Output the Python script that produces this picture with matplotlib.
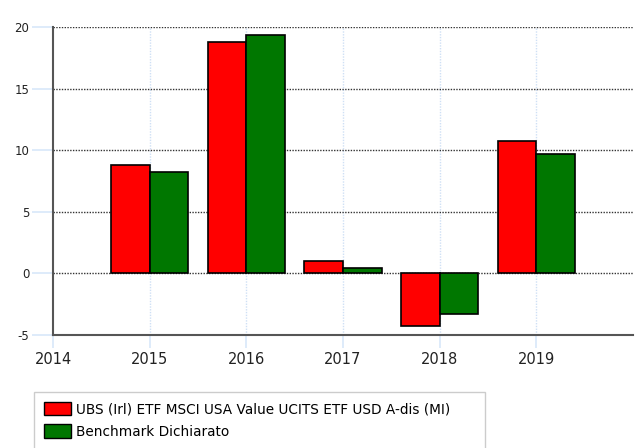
import matplotlib
matplotlib.use("Agg")
import matplotlib.pyplot as plt
from matplotlib.patches import Rectangle, Patch
import numpy as np

years = [2015, 2016, 2017, 2018, 2019]
fund = [8.8, 18.78, 1.0, -4.27, 10.72]
bench = [8.23, 19.35, 0.47, -3.3, 9.72]
xticks = [2014, 2015, 2016, 2017, 2018, 2019]
yticks = [-5, 0, 5, 10, 15, 20]
labels = ["UBS (Irl) ETF MSCI USA Value UCITS ETF USD A-dis (MI)", "Benchmark Dichiarato"]

W, H = 636, 448
fig = plt.figure(figsize=(W / 100, H / 100), dpi=100)
ax = fig.add_axes([53 / W, 1 - 335 / H, (633 - 53) / W, (335 - 27) / H])

x = np.array(years, dtype=float)
bw = 0.4
ax.bar(x - bw / 2, fund, width=bw, color="#ff0000", edgecolor="black", linewidth=1.2, zorder=3)
ax.bar(x + bw / 2, bench, width=bw, color="#007700", edgecolor="black", linewidth=1.2, zorder=3)

ax.set_xlim(2014, 2020)
ax.set_ylim(-5, 20)
ax.set_xticks(xticks)
ax.set_xticklabels([str(v) for v in xticks])
ax.set_yticks(yticks)
ax.set_yticklabels([str(v) for v in yticks])

for v in [0, 5, 10, 15, 20]:
    ax.axhline(v, color="#333333", linestyle=(0, (1, 1)), linewidth=1.0, zorder=1)
for v in years:
    ax.axvline(v, color="#cfe0f5", linestyle=(0, (1, 1)), linewidth=1.0, zorder=0)

for s in ["top", "right"]:
    ax.spines[s].set_visible(False)
for s in ["left", "bottom"]:
    ax.spines[s].set_color("#555555")
    ax.spines[s].set_linewidth(1.5)

ax.tick_params(axis="y", length=15, color="#d8e8fa", width=1.2, pad=2, labelsize=8.5, labelcolor="#222222")
ax.tick_params(axis="x", length=9, color="#d8e8fa", width=1.2, pad=3, labelsize=10.5, labelcolor="#222222")

# legend frame
rect = Rectangle((34 / W, 1 - 470 / H), (485 - 34) / W, (470 - 392) / H,
                 transform=fig.transFigure, facecolor="white", edgecolor="#cccccc",
                 linewidth=1.0, clip_on=False)
fig.patches.append(rect)
handles = [Patch(facecolor="#ff0000", edgecolor="black"), Patch(facecolor="#007700", edgecolor="black")]
fig.legend(handles, labels, loc="upper left", bbox_to_anchor=(41 / W, 1 - 399 / H),
           frameon=False, fontsize=9.8, handlelength=2.0, handleheight=1.15,
           handletextpad=0.4, labelspacing=0.6, borderpad=0.2, borderaxespad=0)

fig.savefig("out.png", dpi=100)
